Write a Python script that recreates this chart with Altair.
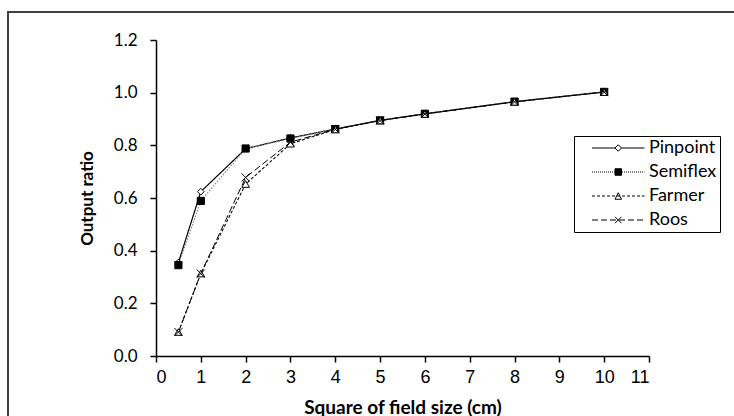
import altair as alt
import pandas as pd

# ---- data ----
field_sizes = [0.5, 1, 2, 3, 4, 5, 6, 8, 10]
pinpoint = [0.355, 0.624, 0.787, 0.828, 0.862, 0.895, 0.920, 0.966, 1.003]
semiflex = [0.345, 0.589, 0.788, 0.826, 0.862, 0.895, 0.920, 0.966, 1.003]
farmer = [0.091, 0.313, 0.653, 0.806, 0.860, 0.894, 0.919, 0.965, 1.002]
roos = [0.091, 0.313, 0.678, 0.812, 0.861, 0.894, 0.919, 0.965, 1.002]
series = ["Pinpoint", "Semiflex", "Farmer", "Roos"]
x_ticks = list(range(0, 12))
y_ticks = [0.0, 0.2, 0.4, 0.6, 0.8, 1.0, 1.2]

rows = []
for name, vals in zip(series, [pinpoint, semiflex, farmer, roos]):
    for xv, yv in zip(field_sizes, vals):
        rows.append({"series": name, "size": xv, "ratio": yv})
df = pd.DataFrame(rows)

# ---- styles ----
W, H = 493, 316
PL, PT = 156, 40
line_colors = ["black", "#808080", "black", "black"]
line_dash = [[1, 0], [1.5, 1.5], [3, 2], [7, 3]]
line_width = [1.2, 1.0, 1.2, 1.2]
X_PATH = "M-1,-1L1,1M1,-1L-1,1"
pt_shapes = ["diamond", "square", "triangle-up", X_PATH]
pt_fill = ["white", "black", "white", "white"]
pt_stroke = ["black", "black", "black", "black"]
pt_size = [45, 64, 40, 45]

# legend symbols: line + marker drawn as one custom path (unit = 5 px)
U = 5.0
L0, L1, MC = 1.2, 11.7, 6.45


def dashed(dash, gap):
    parts = []
    x = L0
    while x < L1:
        x2 = min(x + dash / U, L1)
        parts.append(f"M{x:.3f},0L{x2:.3f},0")
        x = x2 + gap / U
    return "".join(parts)


m = 0.65
leg_paths = [
    f"M{L0},0L{MC - m},0M{MC + m},0L{L1},0" + f"M{MC},{-m}L{MC + m},0L{MC},{m}L{MC - m},0Z",
    dashed(1, 1) + f"M{MC - m},{-m}L{MC + m},{-m}L{MC + m},{m}L{MC - m},{m}Z",
    dashed(3, 2) + f"M{MC},{-m}L{MC + m},{m}L{MC - m},{m}Z",
    dashed(6, 3) + f"M{MC - m},{-m}L{MC + m},{m}M{MC + m},{-m}L{MC - m},{m}",
]

x_enc = alt.X("size:Q", scale=alt.Scale(domain=[0, 11], nice=False),
              axis=alt.Axis(values=x_ticks, title="Square of field size (cm)", grid=False,
                            labelFont="Liberation Sans", labelFontSize=18, labelPadding=6,
                            titleFontSize=19,
                            titleX=W / 2, titleY=51, titleBaseline="middle"))
y_enc = alt.Y("ratio:Q", scale=alt.Scale(domain=[0, 1.2], nice=False),
              axis=alt.Axis(values=y_ticks, format=".1f", title="Output ratio", grid=False,
                            labelFont="Lato", labelFontSize=17, labelPadding=13,
                            titleFontSize=17,
                            titleX=-69, titleY=H / 2, titleBaseline="middle"))

lines = alt.Chart(df).mark_line().encode(
    x=x_enc, y=y_enc,
    color=alt.Color("series:N", scale=alt.Scale(domain=series, range=line_colors), legend=None),
    strokeDash=alt.StrokeDash("series:N", scale=alt.Scale(domain=series, range=line_dash), legend=None),
    strokeWidth=alt.StrokeWidth("series:N", scale=alt.Scale(domain=series, range=line_width), legend=None),
    order=alt.Order("size:Q"),
)

points = alt.Chart(df).mark_point(filled=True, stroke="black", strokeWidth=1, opacity=1).encode(
    x=x_enc, y=y_enc,
    shape=alt.Shape("series:N", scale=alt.Scale(domain=series, range=pt_shapes), legend=None),
    fill=alt.Fill("series:N", scale=alt.Scale(domain=series, range=pt_fill), legend=None),
    size=alt.Size("series:N", scale=alt.Scale(domain=series, range=pt_size), legend=None),
)

leg = alt.Legend(title=None, orient="none", legendX=418, legendY=96, strokeColor="black",
                 padding=3, symbolSize=100, symbolStrokeWidth=1, symbolStrokeColor="black",
                 labelFont="Lato", labelFontSize=18, labelColor="black", labelOffset=54,
                 rowPadding=6,
                 labelExpr="datum.label + '\u00a0\u00a0\u00a0\u00a0\u00a0\u00a0'")

legend_layer = alt.Chart(df).transform_filter("false").mark_point(
    filled=True, strokeWidth=1, opacity=1).encode(
    x=x_enc, y=y_enc,
    shape=alt.Shape("series:N", scale=alt.Scale(domain=series, range=leg_paths), legend=leg),
    fill=alt.Fill("series:N", scale=alt.Scale(domain=series, range=pt_fill), legend=leg),
    stroke=alt.Stroke("series:N", scale=alt.Scale(domain=series, range=pt_stroke), legend=leg),
)

frame = alt.Chart(alt.Data(values=[{"k": 1}])).mark_rect(
    fill="transparent", stroke="#404040", strokeWidth=2).encode(
    x=alt.value(8 - PL), x2=alt.value(900), y=alt.value(12 - PT), y2=alt.value(600))

chart = alt.layer(frame, lines, points, legend_layer).resolve_scale(
    shape="independent", fill="independent", size="independent", stroke="independent"
).properties(
    width=W, height=H,
    autosize=alt.AutoSizeParams(type="none"),
    padding={"left": PL, "top": PT, "right": 734 - PL - W, "bottom": 416 - PT - H},
).configure_view(stroke=None).configure_axis(
    domainColor="black", domainWidth=1.5, tickColor="black", tickSize=6, tickWidth=1.5,
    labelColor="black", titleColor="black", titleFont="Lato",
    titleFontWeight="bold",
)

chart.save("out.html", embed_options={"renderer": "svg", "actions": False})
